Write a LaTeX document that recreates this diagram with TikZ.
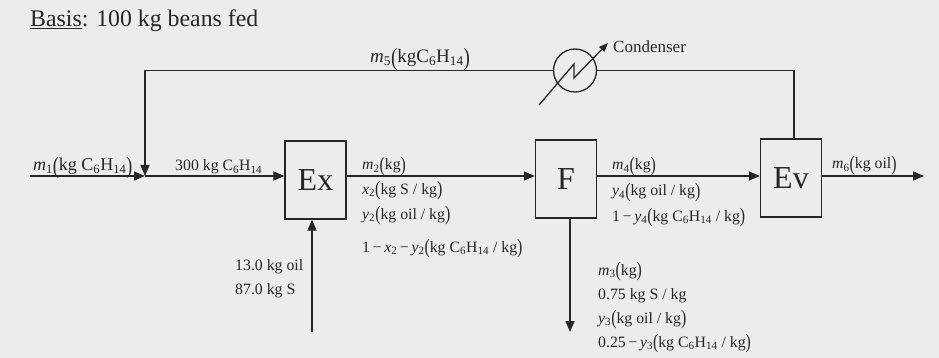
\documentclass[tikz,border=0pt]{standalone}
\usepackage{fontspec}
\setmainfont{Liberation Serif}
\usepackage{graphicx}
\usetikzlibrary{arrows.meta,calc}
\definecolor{bg}{RGB}{236,236,234}
\definecolor{ink}{RGB}{38,38,38}
\newcommand\lpar{\raisebox{-0.12em}{\scalebox{1}[1.3]{(}}}
\newcommand\rpar{\raisebox{-0.12em}{\scalebox{1}[1.3]{)}}}
\newcommand\sbs[1]{\textsubscript{#1}}
\newcommand\mns{\,−\,}
\begin{document}
\begin{tikzpicture}[x=1pt,y=-1pt,
  line/.style={draw=ink,line width=1.3pt},
  arr/.style={line,-{Triangle[length=11pt,width=9pt]}},
  smallarr/.style={line,-{Triangle[length=9pt,width=7pt]}},
  unit/.style={draw=ink,line width=1.3pt,minimum width=61pt,minimum height=78pt,inner sep=0pt,font=\fontsize{32}{34}\selectfont,text=ink},
  lbl/.style={anchor=base west,inner sep=0pt,font=\fontsize{15.8}{17}\selectfont,text=ink},
  biglbl/.style={anchor=base west,inner sep=0pt,font=\fontsize{17}{19}\selectfont,text=ink},
]
\fill[bg] (0,0) rectangle (939,358);
\useasboundingbox (0,0) rectangle (939,358);

% title
\node[anchor=base west,inner sep=0pt,font=\fontsize{23.8}{26}\selectfont,text=ink] (title) at (30,27) {\underline{Basis}: 100 kg beans fed};

% units
\node[unit] (ex) at (315.5,180) {Ex};
\node[unit] (f) at (566,179) {F};
\node[unit] (ev) at (791,178) {Ev};
\node[circle,line,minimum size=43pt,inner sep=0pt] (cond) at (575,70.5) {};

% coordinates
\coordinate (in) at (30,176);
\coordinate (j) at (145,176);
\coordinate (tl) at (145,70.5);
\coordinate (tr) at (794,70.5);
\coordinate (exin) at (312,332);
\coordinate (fout) at (570,332);
\coordinate (out) at (924,176);

% main line
\draw[arr] (in) -- (j);
\draw[arr] (j) -- (ex.west |- j);
\draw[arr] (ex.east |- j) -- (f.west |- j);
\draw[arr] (f.east |- j) -- (ev.west |- j);
\draw[arr] (ev.east |- j) -- (out);

% recycle
\draw[line] (ev.north -| tr) -- (tr) -- (cond.east);
\draw[arr] (cond.west) -- (tl) -- (j);

% feed and underflow
\draw[arr] (exin) -- (ex.south -| exin);
\draw[arr] (f.south -| fout) -- (fout);

% condenser symbol
\draw[smallarr] ($(cond)+(-36,34.5)$) -- ($(cond)+(-1,-6.5)$) -- ($(cond)+(-1,7.5)$) -- ($(cond)+(33,-27.5)$);

% labels
\node[biglbl,font=\fontsize{19}{21}\selectfont] (m5) at (370,63) {\textit{m}\sbs{5}\lpar kgC\sbs{6}H\sbs{14}\rpar};
\node[biglbl] (condlbl) at (613,53) {Condenser};
\node[biglbl,font=\fontsize{18}{20}\selectfont] (m1) at (33,171) {\textit{m}\sbs{1}\lpar kg C\sbs{6}H\sbs{14}\rpar};
\node[lbl] (feed) at (175,171) {300 kg C\sbs{6}H\sbs{14}};

\node[lbl] (m2) at (362,170) {\textit{m}\sbs{2}\lpar kg\rpar};
\node[lbl] (x2) at (362,194) {\textit{x}\sbs{2}\lpar kg S / kg\rpar};
\node[lbl] (y2) at (362,219) {\textit{y}\sbs{2}\lpar kg oil / kg\rpar};
\node[lbl] (r2) at (362,252) {1\mns\textit{x}\sbs{2}\mns\textit{y}\sbs{2}\lpar kg C\sbs{6}H\sbs{14} / kg\rpar};

\node[lbl] (m4) at (612,170) {\textit{m}\sbs{4}\lpar kg\rpar};
\node[lbl] (y4) at (612,196) {\textit{y}\sbs{4}\lpar kg oil / kg\rpar};
\node[lbl] (r4) at (612,221) {1\mns\textit{y}\sbs{4}\lpar kg C\sbs{6}H\sbs{14} / kg\rpar};

\node[lbl] (m6) at (832,169) {\textit{m}\sbs{6}\lpar kg oil\rpar};

\node[lbl] (oil) at (235,270) {13.0 kg oil};
\node[lbl] (sol) at (235,294) {87.0 kg S};

\node[lbl] (m3) at (598,275) {\textit{m}\sbs{3}\lpar kg\rpar};
\node[lbl] (s3) at (598,299) {0.75 kg S / kg};
\node[lbl] (y3) at (598,323) {\textit{y}\sbs{3}\lpar kg oil / kg\rpar};
\node[lbl] (r3) at (598,347) {0.25\mns\textit{y}\sbs{3}\lpar kg C\sbs{6}H\sbs{14} / kg\rpar};
\end{tikzpicture}
\end{document}
